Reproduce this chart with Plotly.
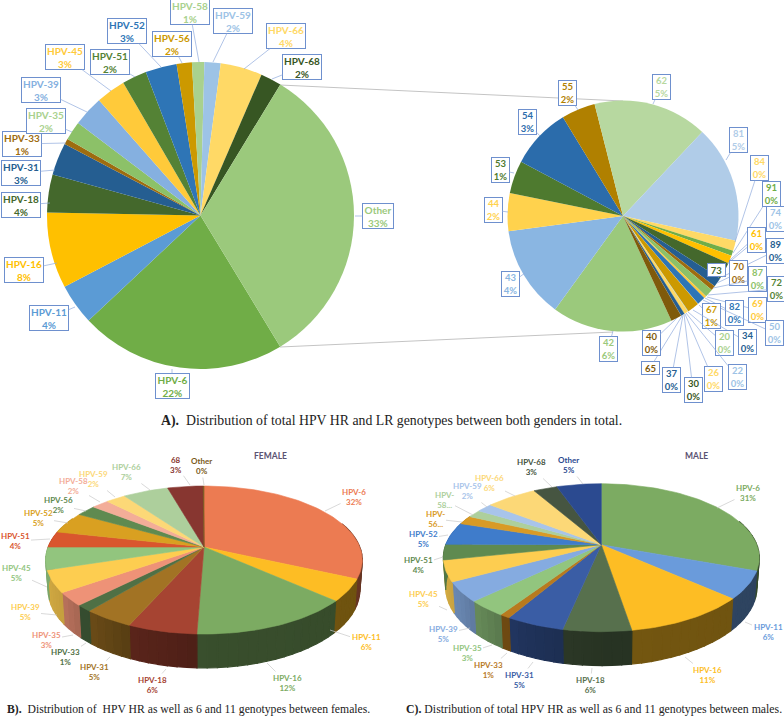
import math
import plotly.graph_objects as go

W, H = 784, 716

# ---------- data ----------
total_labels = ["HPV-6","HPV-11","HPV-16","HPV-18","HPV-31","HPV-33","HPV-35","HPV-39","HPV-45","HPV-51","HPV-52","HPV-56","HPV-58","HPV-59","HPV-66","HPV-68","Other"]
total_values = [21.7,4.3,8.0,4.0,3.4,0.6,2.0,3.2,3.1,2.6,3.3,1.6,1.3,1.7,4.4,2.2,32.6]
total_shown = ["22%","4%","8%","4%","3%","1%","2%","3%","3%","2%","3%","2%","1%","2%","4%","2%","33%"]

other_labels = ["42","43","44","53","54","55","62","81","84","91","74","61","73","89","70","87","72","69","82","50","67","34","20","22","26","30","37","65","40"]
other_values = [16.9,12.9,5.3,4.6,8.5,4.75,16.0,16.4,1.45,0.7,0.03,1.1,2.4,1.3,0.65,1.15,0.03,0.35,1.15,0.03,1.65,0.03,0.03,0.03,0.55,0.03,0.5,0.03,1.5]
other_shown = ["6%","4%","2%","1%","3%","2%","5%","5%","0%","0%","0%","0%","","0%","0%","0%","0%","0%","0%","0%","1%","0%","0%","0%","0%","0%","0%","","0%"]

female_labels = ["HPV-6","HPV-11","HPV-16","HPV-18","HPV-31","HPV-33","HPV-35","HPV-39","HPV-45","HPV-51","HPV-52","HPV-56","HPV-58","HPV-59","HPV-66","68","Other"]
female_values = [31.8,4.8,14.0,6.0,4.4,1.4,2.9,4.8,4.9,3.5,4.7,2.4,2.1,2.4,5.5,4.3,0.1]
female_shown = ["32%","6%","12%","6%","5%","1%","3%","5%","5%","4%","5%","2%","2%","2%","7%","3%","0%"]

male_labels = ["HPV-6","HPV-11","HPV-16","HPV-18","HPV-31","HPV-33","HPV-35","HPV-39","HPV-45","HPV-51","HPV-52","HPV-<br>56...","HPV-<br>58...","HPV-59","HPV-66","HPV-68","Other"]
male_values = [30.6,6.0,10.8,5.9,5.1,0.9,3.5,4.3,4.6,3.4,4.9,1.9,1.7,1.9,6.2,2.9,5.4]
male_shown = ["31%","6%","11%","6%","5%","1%","3%","5%","5%","4%","5%","","","2%","6%","3%","5%"]

# ---------- styles ----------
total_colors = ["#70AD47","#5B9BD5","#FFC000","#44682C","#255E91","#9E6C0F","#8CC168","#85B0E0","#FFCA3A","#548235","#2E75B6","#CC9900","#A9D18E","#9DC3E6","#FFD966","#375623","#9BC97C"]
total_text = ["#70AD47","#5B9BD5","#FFC000","#44682C","#255E91","#9E6C0F","#A9D18E","#85B0E0","#FFCA3A","#548235","#2E75B6","#CC9900","#A9D18E","#9DC3E6","#FFD966","#375623","#9BC97C"]
other_colors = ["#9BC97C","#8AB6E2","#FFD24D","#4E7A2F","#2B6CAB","#B08000","#B7D8A0","#B0CCE8","#FFD966","#70AD47","#9DC3E6","#FFC000","#44682C","#255E91","#9E6C0F","#8CC168","#548235","#FFCA3A","#2E75B6","#9DC3E6","#CC9900","#255E91","#A9D18E","#9DC3E6","#FFD966","#375623","#255E91","#7F5A0B","#7F5A0B"]
other_text = list(other_colors)
female_colors = ["#EC7B52","#FDBD24","#7CAB62","#A64432","#A27324","#4F7045","#EE9277","#FDCD50","#92C57E","#D9562E","#D9A021","#5F8A50","#F3AD98","#FCD877","#ADCF9C","#873630","#7A5A20"]
male_colors = ["#7CAB62","#6A9BDB","#FDBD24","#57704D","#3A5DA5","#B87A1F","#92C57E","#85ABE0","#FDCD50","#5F8A50","#3F7CCB","#D99A25","#ADCF9C","#A8C4EA","#FCD877","#465541","#2B4A90"]

# label placement, px: (box centre x, y, leader tip x, y)
total_pos = [(172,386,172,369),(49,318,75,307),(24,270,57,263),(21,205,50,203),(21,173,55,170),(22,144,66,143),(46,121,72,132),(41,90,87,112),(65,57,111,91),(110,62,135,77),(127,31,161,67),(172,44,182,63),(190,12,199,62),(233,21,213,62),(286,36,244,69),(302,67,272,79),(378,216,355,216)]
other_pos = [(608,349,613,331),(510,284,525,273),(493,210,508,212),(500,170,514,173),(527,122,540,136),(567,93,578,110),(661,87,653,104),(738,140,726,160),(759,168,735,242),(771,194,733,253),(775,219,730,260),(756,240,727,264),(716,270,722,266),(775,251,722,277),(738,273,717,283),(757,279,713,288),(776,289,708,295),(757,310,707,297),(734,313,705,298),(774,333,703,300),(711,316,699,305),(747,342,693,310),(724,343,688,312),(737,377,686,313),(713,379,685,314),(693,390,684,314),(671,380,683,315),(650,368,682,316),(651,343,677,318)]
female_pos = [(354,497,325,511),(366,642,330,630),(287,683,267,663),(152,685,166,669),(94,672,110,657),(65,657,86,643),(46,640,73,635),(25,612,57,615),(16,573,47,587),(15,541,50,539),(38,518,68,523),(58,505,86,511),(73,486,100,502),(93,479,115,497),(126,472,150,490),(176,465,190,485),(201,466,204,485)]
male_pos = [(748,493,717,508),(768,632,745,622),(707,675,685,657),(590,685,592,668),(519,680,533,662),(488,670,507,653),(467,653,492,645),(443,634,470,628),(423,599,447,610),(418,565,443,557),(423,539,448,535),(435,519,462,522),(444,500,473,515),(467,491,487,507),(489,483,515,496),(531,467,552,487),(568,465,583,484)]

BOX_BLUE = "#6E90CE"
LEAD_BLUE = "#8FAADC"
FONT = "Lato"


def domain(cx, cy, r):
    return dict(x=[(cx - r) / W, (cx + r) / W], y=[1 - (cy + r) / H, 1 - (cy - r) / H])


fig = go.Figure()
fig.add_trace(go.Pie(labels=total_labels, values=total_values, sort=False, direction="clockwise", rotation=148.7,
                     textinfo="none", hoverinfo="label+percent", showlegend=False, domain=domain(200.5, 215.5, 153.5),
                     marker=dict(colors=total_colors, line=dict(width=0))))
fig.add_trace(go.Pie(labels=other_labels, values=other_values, sort=False, direction="clockwise", rotation=155.2,
                     textinfo="none", hoverinfo="label+percent", showlegend=False, domain=domain(623, 216, 115.5),
                     marker=dict(colors=other_colors, line=dict(width=0))))

# tilted 3D pies, projected from the values
K, A_Y = 0.176, 71.7
DEPTH = 29.0


def rim(cx, cy, b, deg, low=False):
    t = math.radians(deg)
    u, v = math.sin(t), -math.cos(t)
    s = 1 / (1 - K * v)
    if low:
        return cx + b * u * s * 0.985, cy + A_Y * v * s * 0.985 + DEPTH * s
    return cx + b * u * s, cy + A_Y * v * s


def shade(deg):
    pts = [(60, .42), (180, .46), (205, .55), (235, .78), (285, .92), (300, .92)]
    if deg <= pts[0][0]:
        return pts[0][1]
    for (a, p), (b, q) in zip(pts, pts[1:]):
        if deg <= b:
            return p + (q - p) * (deg - a) / (b - a)
    return pts[-1][1]


def mix(color, f):
    r, g, b = int(color[1:3], 16), int(color[3:5], 16), int(color[5:7], 16)
    return "rgb(%d,%d,%d)" % (r * f, g * f, b * f)


def poly(xs, ys, color, width=0.6):
    fig.add_trace(go.Scatter(x=xs, y=ys, mode="lines", fill="toself", fillcolor=color,
                             line=dict(color=color, width=width), hoverinfo="skip", showlegend=False))


def tilted_pie(values, colors, cx, cy, b):
    total = sum(values)
    edges = [0.0]
    for val in values:
        edges.append(edges[-1] + val / total * 360)
    # side wall first, so the top face covers its hidden parts
    for i, col in enumerate(colors):
        a0, a1 = edges[i], edges[i + 1]
        if a1 < 70 or a0 > 295:
            continue
        a0, a1 = max(a0, 70), min(a1, 295)
        n = max(1, int((a1 - a0) / 3))
        for j in range(n):
            p = a0 + (a1 - a0) * j / n
            q = a0 + (a1 - a0) * (j + 1) / n
            c1, c2 = rim(cx, cy, b, p), rim(cx, cy, b, q)
            c3, c4 = rim(cx, cy, b, q, True), rim(cx, cy, b, p, True)
            poly([c1[0], c2[0], c3[0], c4[0], c1[0]], [c1[1], c2[1], c3[1], c4[1], c1[1]], mix(col, shade((p + q) / 2)), 1.2)
    # top face
    for i, col in enumerate(colors):
        a0, a1 = edges[i], edges[i + 1]
        n = max(2, int((a1 - a0) / 1.5))
        pts = [rim(cx, cy, b, a0 + (a1 - a0) * j / n) for j in range(n + 1)]
        xs = [cx] + [p[0] for p in pts] + [cx]
        ys = [cy] + [p[1] for p in pts] + [cy]
        poly(xs, ys, col)


tilted_pie(female_values, female_colors, 204, 547, 155.8)
tilted_pie(male_values, male_colors, 601.3, 544.7, 155.5)

annotations = []


def boxed(labels, shown, text_colors, positions, size, w_default):
    for lab, pct, col, (bx, by, tx, ty) in zip(labels, shown, text_colors, positions):
        text = f"<b>{lab}</b>" + (f"<br><b>{pct}</b>" if pct else "")
        width = w_default
        if lab in ("HPV-6",):
            width = 33
        if lab == "Other":
            width = 30
        annotations.append(dict(x=tx, y=ty, ax=bx, ay=by, xref="x", yref="y", axref="x", ayref="y",
                                text=text, showarrow=True, arrowhead=0, arrowwidth=0.7, arrowcolor=LEAD_BLUE,
                                font=dict(family=FONT, size=size, color=col), bgcolor="white",
                                bordercolor=BOX_BLUE, borderwidth=1, borderpad=0, width=width,
                                height=24 if pct else 12, align="center"))


def plain(labels, shown, colors, positions):
    for lab, pct, col, (bx, by, tx, ty) in zip(labels, shown, colors, positions):
        text = f"<b>{lab}</b>" + (f"<br><b>{pct}</b>" if pct else "")
        annotations.append(dict(x=tx, y=ty, ax=bx, ay=by, xref="x", yref="y", axref="x", ayref="y",
                                text=text, showarrow=True, arrowhead=0, arrowwidth=0.7, arrowcolor="#C9C9C9",
                                font=dict(family=FONT, size=8, color=col), align="center"))


boxed(total_labels, total_shown, total_text, total_pos, 10, 38)
boxed(other_labels, other_shown, other_text, other_pos, 9.5, 17)
plain(female_labels, female_shown, female_colors, female_pos)
plain(male_labels, male_shown, male_colors, male_pos)


def label(x, y, text, size, family, color="#222222", anchor="left"):
    annotations.append(dict(x=x, y=y, xref="x", yref="y", text=text, showarrow=False, xanchor=anchor, yanchor="middle",
                            font=dict(family=family, size=size, color=color)))


SERIF = "Liberation Serif"
label(159, 421, "<b>A).</b>  Distribution of total HPV HR and LR genotypes between both genders in total.", 13.8, SERIF)
label(5, 709, "<b>B).</b>  Distribution of  HPV HR as well as 6 and 11 genotypes between females.", 11.7, SERIF)
label(404, 709, "<b>C).</b> Distribution of total HPV HR as well as 6 and 11 genotypes between males.", 11.8, SERIF)
label(270, 456, "<b>FEMALE</b>", 8.5, FONT, "#5B5372", "center")
label(696, 456, "<b>MALE</b>", 8.5, FONT, "#5B5372", "center")

connector = dict(color="#C4C4C4", width=1)
shapes = [
    dict(type="line", xref="x", yref="y", x0=280, y0=85, x1=623, y1=101, line=connector, layer="below"),
    dict(type="line", xref="x", yref="y", x0=280, y0=347, x1=613, y1=332, line=connector, layer="below"),
]

fig.update_layout(
    width=W, height=H, margin=dict(l=0, r=0, t=0, b=0), paper_bgcolor="white", plot_bgcolor="white",
    showlegend=False, annotations=annotations, shapes=shapes,
    xaxis=dict(range=[0, W], visible=False, fixedrange=True),
    yaxis=dict(range=[H, 0], visible=False, fixedrange=True),
)
fig.write_html("out.html", config={"displayModeBar": False},
               post_script="document.body.style.margin='0';document.documentElement.style.overflow='hidden';")
